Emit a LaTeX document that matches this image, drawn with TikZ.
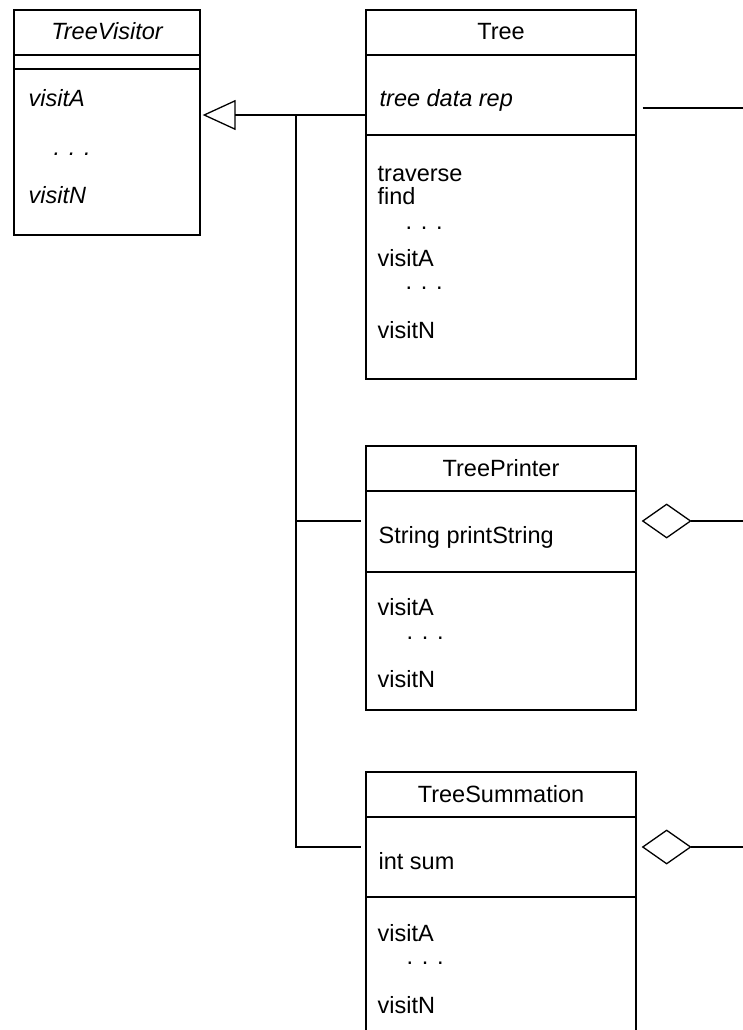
\documentclass[tikz,border=0pt]{standalone}
\usepackage{fontspec}
\setmainfont{Liberation Sans}
\usetikzlibrary{arrows.meta, positioning, calc}

\tikzset{
  every node/.style={font=\fontsize{23.5}{28}\selectfont},
  classbox/.style={draw, line width=1.3pt, minimum width=270pt, inner sep=0pt},
  member/.style={anchor=base west, inner sep=0pt},
  heading/.style={anchor=base, inner sep=0pt},
}

\begin{document}
\begin{tikzpicture}[x=1pt, y=-1pt, line width=1.3pt]
    \useasboundingbox (0,0) rectangle (743,1030);
    \clip (0,0) rectangle (743,1030);

    % Class boxes
    \node[classbox, minimum width=186pt, minimum height=225pt] (visitor) at (107,122.5) {};
    \node[classbox, minimum height=369pt] (tree) at (501,194.5) {};
    \node[classbox, minimum height=264pt] (printer) at (501,578) {};
    \node[classbox, minimum height=280pt] (summation) at (501,912) {};

    % Compartment lines
    \draw (visitor.west |- 0,55) -- (visitor.east |- 0,55);
    \draw (visitor.west |- 0,69) -- (visitor.east |- 0,69);
    \draw (tree.west |- 0,55) -- (tree.east |- 0,55);
    \draw (tree.west |- 0,135) -- (tree.east |- 0,135);
    \draw (printer.west |- 0,491) -- (printer.east |- 0,491);
    \draw (printer.west |- 0,572) -- (printer.east |- 0,572);
    \draw (summation.west |- 0,817) -- (summation.east |- 0,817);
    \draw (summation.west |- 0,897) -- (summation.east |- 0,897);

    % TreeVisitor
    \node[heading] (visitorname) at (107,40) {\itshape TreeVisitor};
    \node[member] (visitora) at (28,107) {\itshape visitA};
    \node[member] (visitordots) at (53,155) {\itshape . . .};
    \node[member] (visitorn) at (28,203) {\itshape visitN};

    % Tree
    \node[heading] (treename) at (501,40) {Tree};
    \node[member] (treedata) at (379,107) {\itshape tree data rep};
    \node[member] (traverse) at (377,181) {traverse};
    \node[member] (find) at (377,204) {find};
    \node[member] (treedots) at (405,229) {. . .};
    \node[member] (treea) at (377,266) {visitA};
    \node[member] (treedotsb) at (405,289) {. . .};
    \node[member] (treen) at (377,338) {visitN};

    % TreePrinter
    \node[heading] (printername) at (501,476) {TreePrinter};
    \node[member] (printstring) at (378,543) {String printString};
    \node[member] (printera) at (377,615) {visitA};
    \node[member] (printerdots) at (406,639) {. . .};
    \node[member] (printern) at (377,687) {visitN};

    % TreeSummation
    \node[heading] (summationname) at (501,802) {TreeSummation};
    \node[member] (sum) at (378,869) {int sum};
    \node[member] (summationa) at (377,941) {visitA};
    \node[member] (summationdots) at (406,964) {. . .};
    \node[member] (summationn) at (377,1013) {visitN};

    % Inheritance
    \coordinate (bus) at (296,115);
    \coordinate (branch) at (296,521);
    \coordinate (busend) at (296,847);
    \draw[-{Triangle[open, length=33pt, width=30pt]}, shorten >=2pt] (tree.west |- bus) -- (visitor.east |- bus);
    \draw[shorten >=4pt] (bus) -- (busend) -- (summation.west |- busend);
    \draw[shorten >=4pt] (branch) -- (printer.west |- branch);

    % Links to the right
    \coordinate (treeout) at (743,108);
    \coordinate (printerout) at (743,521);
    \coordinate (sumout) at (743,847);
    \draw[shorten <=6pt] (tree.east |- treeout) -- (treeout);
    \draw[{Diamond[open, length=50pt, width=35pt]}-, shorten <=5pt] (printer.east |- printerout) -- (printerout);
    \draw[{Diamond[open, length=50pt, width=35pt]}-, shorten <=5pt] (summation.east |- sumout) -- (sumout);
\end{tikzpicture}
\end{document}
